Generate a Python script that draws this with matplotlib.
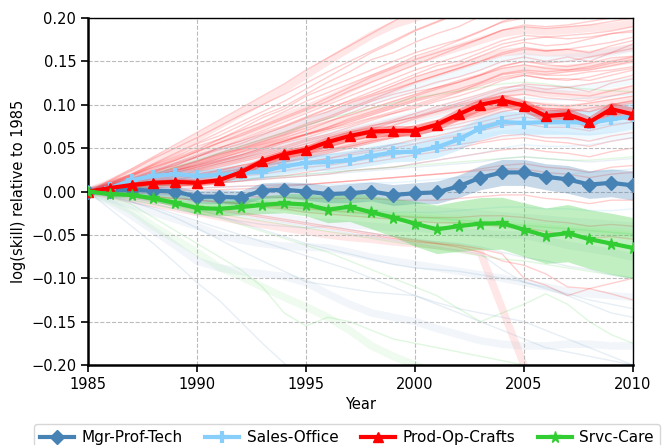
import numpy as np
import matplotlib
matplotlib.use("Agg")
import matplotlib.pyplot as plt

years = list(range(1985, 2011))

# main series
mgr = [0, .001, .002, .001, .000, -.006, -.006, -.007, .001, .002, .000, -.003, -.002, .000, -.004,
       -.002, -.001, .006, .016, .022, .022, .017, .014, .008, .010, .007]
sales = [0, .004, .013, .018, .020, .018, .019, .021, .023, .029, .033, .034, .036, .041, .045,
         .046, .051, .060, .073, .080, .079, .080, .080, .079, .083, .087]
prod = [0, .004, .0075, .010, .011, .010, .013, .022, .035, .043, .048, .057, .064, .069, .070,
        .070, .077, .089, .100, .105, .099, .087, .089, .080, .095, .089]
srvc = [0, -.003, -.004, -.008, -.013, -.019, -.020, -.018, -.0155, -.0136, -.015, -.021, -.0175,
        -.024, -.030, -.037, -.0436, -.040, -.037, -.0366, -.044, -.051, -.048, -.055, -.060, -.065]

# confidence half-widths
mgr_err = [0, .003, .004, .005, .006, .007, .008, .008, .009, .009, .010, .010, .011, .011, .012,
           .012, .013, .013, .014, .015, .015, .015, .016, .016, .016, .017]
sales_err = [0, .003, .004, .005, .006, .007, .007, .008, .008, .009, .009, .010, .010, .011, .011,
             .011, .012, .012, .013, .013, .013, .014, .014, .014, .015, .015]
prod_err = [0, .002, .003, .003, .004, .004, .004, .005, .005, .005, .005, .006, .006, .006, .006,
            .006, .006, .007, .007, .007, .007, .007, .007, .007, .008, .008]
srvc_err = [0, .001, .002, .003, .005, .007, .008, .009, .010, .011, .013, .015, .017, .019, .022,
            .026, .028, .029, .030, .030, .031, .032, .033, .034, .035, .035]

# background occupation trajectories (thousandths)
red_thin = [
    "0 8 18 30 40 52 60 72 85 95 110 120 130 140 150 160 168 175 185 195 200 205 210 215 220 225",
    "0 6 14 22 30 40 48 55 65 75 85 95 105 115 125 135 145 150 160 170 175 178 180 182 185 190",
    "0 5 10 18 25 32 40 48 55 62 70 80 90 100 108 115 120 128 135 145 150 148 150 155 160 165",
    "0 4 9 15 22 28 35 42 50 58 65 72 78 85 92 100 108 115 125 135 138 135 138 140 145 150",
    "0 7 12 20 26 34 42 50 58 66 76 84 94 104 112 118 126 132 140 150 155 150 155 150 160 170",
    "0 3 8 12 18 24 30 36 42 48 55 62 68 75 82 90 98 105 112 120 122 118 120 115 125 130",
    "0 5 11 16 22 26 32 38 44 50 58 64 70 76 80 86 92 98 104 110 112 108 106 104 110 115",
    "0 2 6 10 14 18 24 28 34 40 46 52 58 64 70 76 82 86 92 98 100 95 96 92 100 105",
    "0 4 8 12 16 20 24 30 34 38 44 48 52 58 62 66 70 74 80 86 90 86 84 82 88 92",
    "0 3 5 8 12 14 18 22 26 30 34 38 42 46 50 55 60 64 70 76 78 74 74 70 76 80",
    "0 2 4 6 8 12 14 18 20 24 28 30 34 38 42 46 50 54 58 64 66 62 62 58 64 68",
    "0 1 3 5 6 8 10 12 14 16 18 20 24 26 28 32 36 40 44 48 50 46 44 40 46 50",
    "0 0 1 2 3 4 5 6 7 8 8 10 12 14 16 18 20 22 26 30 32 28 26 22 28 30",
    "0 -1 -2 -2 -3 -4 -5 -6 -6 -7 -8 -8 -8 -8 -10 -10 -10 -8 -6 -4 -4 -8 -10 -14 -10 -10",
    "0 -2 -4 -6 -8 -10 -12 -14 -16 -18 -20 -22 -24 -26 -28 -30 -30 -30 -28 -28 -30 -34 -36 -40 -38 -40",
    "0 10 20 32 44 56 68 80 92 104 118 132 146 160 172 185 195 205 215 228 235 240 245 250 255 260",
    "0 9 17 26 36 46 56 64 74 84 94 104 116 126 136 146 156 166 176 186 190 188 190 192 196 200",
    "0 6 13 20 28 35 44 52 60 68 78 86 96 106 116 126 134 142 150 160 166 162 164 160 168 174",
    "0 5 9 14 20 25 32 38 46 52 60 66 74 82 90 98 106 114 122 130 134 130 130 128 134 140",
    "0 3 7 11 16 20 25 30 36 42 48 54 60 68 76 84 92 100 106 114 118 114 112 110 116 122",
    "0 4 7 10 14 18 22 26 30 34 40 46 52 58 64 70 76 82 88 96 100 96 94 92 98 102",
    "0 2 5 8 10 14 18 22 26 30 34 38 44 48 54 60 64 70 76 82 86 82 80 78 84 88",
    "0 1 2 4 6 8 10 12 16 18 22 26 30 34 38 42 46 50 56 60 62 58 56 52 58 62",
    "0 -1 -1 0 1 2 2 3 4 6 8 10 12 14 16 18 20 22 24 26 26 22 20 16 20 22",
    "0 -2 -4 -6 -8 -10 -12 -14 -18 -20 -24 -26 -28 -30 -32 -34 -36 -36 -38 -40 -42 -46 -50 -54 -52 -55",
    "0 -2 -5 -8 -12 -16 -20 -24 -28 -32 -36 -40 -44 -48 -52 -56 -60 -64 -70 -80 -85 -95 -110 -112 -118 -125",
    "0 -3 -6 -10 -14 -18 -22 -26 -30 -34 -38 -42 -46 -50 -54 -58 -60 -62 -66 -72 -100 -108 -120 -112 -106 -100",
    "0 12 24 38 50 62 75 88 100 112 125 138 150 162 174 186 196 206 216 226 232 236 238 240 244 248",
    "0 7 15 24 33 42 50 60 70 80 90 100 110 120 130 140 148 156 164 174 180 178 176 178 182 186",
    "0 5 12 18 24 30 38 46 54 60 66 74 82 90 98 106 112 118 126 136 140 138 140 142 148 152",
    "0 11 20 31 42 55 64 76 88 98 112 126 138 152 160 172 182 190 202 214 218 214 220 226 230 236",
    "0 8 15 24 30 40 50 58 68 76 86 96 104 112 122 132 140 146 156 166 172 168 170 176 182 184",
    "0 6 11 17 24 31 38 45 52 58 66 74 84 92 100 110 118 126 134 144 150 146 144 148 154 156",
    "0 9 19 28 38 48 60 70 80 92 104 114 124 134 144 156 164 174 184 196 204 200 202 206 212 216",
    "0 4 10 16 22 28 34 40 48 56 62 70 76 84 90 96 104 110 118 128 134 130 128 132 138 142",
    "0 7 13 19 27 35 43 49 57 65 73 81 88 96 104 112 120 126 134 142 146 142 140 144 150 155",
    "0 5 8 13 18 23 28 34 40 46 52 58 64 72 80 86 94 102 110 118 124 122 120 124 128 134",
    "0 13 26 40 54 68 82 96 110 124 140 154 168 182 196 210 222 232 244 256 262 264 266 268 272 276",
    "0 3 6 9 13 17 21 26 31 36 42 48 54 60 66 72 78 84 90 98 104 100 98 102 106 110",
    "0 6 12 18 24 30 36 42 50 58 66 72 80 88 96 104 110 116 124 132 136 134 134 138 140 144",
    "0 8 14 22 32 40 50 58 66 74 84 92 102 110 118 126 134 142 150 158 164 162 164 168 172 178",
    "0 2 5 9 12 16 20 24 28 34 38 44 50 56 62 68 72 78 84 92 96 94 92 96 100 104",
    "0 10 18 28 36 46 56 66 76 86 96 108 120 132 142 152 160 168 176 186 192 190 192 196 200 206",
]
red_thick = [
    "0 10 22 35 48 62 76 90 104 118 134 150 165 180 192 200 210 220 230 240 245 250 252 255 258 260",
    "0 -4 -9 -14 -19 -24 -29 -34 -38 -42 -46 -50 -53 -55 -58 -60 -62 -65 -70 -135 -200 -270 -330 -330 -330 -330",
    "0 6 12 20 28 36 44 52 60 68 78 88 98 108 118 128 136 144 152 160 162 160 160 158 162 166",
    "0 4 9 14 20 26 32 38 44 50 56 62 68 74 80 86 92 98 104 112 116 114 112 110 114 118",
    "0 8 16 26 36 46 56 66 76 86 96 106 118 130 140 150 158 166 174 182 186 184 186 188 190 194",
    "0 5 11 17 24 30 38 45 52 60 68 76 84 92 100 108 116 122 130 138 142 140 142 144 148 152",
    "0 3 6 10 14 18 22 26 30 36 42 48 54 60 66 72 78 84 90 96 100 98 96 98 102 106",
]
lb_thin = [
    "0 2 4 6 8 10 12 14 16 18 20 22 24 26 28 32 36 40 44 50 54 52 52 54 58 62",
    "0 1 2 3 4 4 5 6 6 7 8 8 9 10 10 12 14 16 18 20 22 20 20 22 24 26",
    "0 -1 -2 -3 -4 -6 -8 -10 -12 -14 -16 -18 -20 -22 -24 -24 -24 -22 -20 -18 -18 -20 -20 -22 -22 -20",
    "0 4 8 12 17 22 27 32 38 44 50 56 62 68 74 80 86 92 98 104 108 106 106 108 110 112",
]
lb_thick = [
    "0 5 10 16 22 28 34 40 46 52 58 64 70 76 82 88 94 100 108 116 120 118 118 120 124 128",
    "0 3 6 10 14 18 22 26 30 34 40 44 48 52 56 62 68 74 80 88 92 90 90 92 96 100",
    "0 7 14 22 30 38 46 54 62 70 80 88 96 104 112 120 128 136 144 152 156 152 154 156 160 165",
    "0 2 5 8 11 14 17 20 23 26 30 34 38 42 46 50 54 58 62 66 68 66 64 62 64 66",
]
db_thin = [
    "0 -20 -40 -60 -82 -105 -125 -150 -175 -198 -220 -240 -250 -260 -270 -280 -290 -300 -300 -300 -300 -300 -300 -300 -300 -300",
    "0 -6 -12 -18 -26 -34 -42 -50 -58 -66 -74 -82 -90 -100 -110 -120 -128 -135 -140 -145 -150 -160 -170 -180 -190 -200",
    "0 -4 -10 -14 -20 -26 -30 -34 -38 -40 -42 -40 -44 -48 -52 -55 -58 -60 -64 -70 -76 -80 -86 -90 -96 -100",
    "0 3 6 10 14 18 22 26 30 34 38 42 46 50 54 58 62 66 70 76 80 78 76 74 78 80",
    "0 2 4 6 8 10 10 12 14 16 18 20 22 24 26 28 30 32 34 38 40 38 36 34 36 38",
    "0 -3 -6 -10 -15 -20 -28 -36 -44 -52 -60 -66 -72 -78 -84 -88 -90 -92 -96 -100 -104 -112 -120 -130 -140 -145",
    "0 -5 -12 -20 -30 -42 -55 -68 -80 -92 -104 -108 -112 -116 -118 -120 -130 -140 -150 -160 -170 -180 -185 -190 -195 -200",
    "0 -4 -8 -12 -16 -20 -24 -28 -32 -36 -40 -44 -48 -52 -56 -60 -64 -68 -72 -90 -105 -110 -118 -125 -130 -135",
]
db_thick = [
    "0 -12 -28 -45 -62 -80 -88 -92 -95 -98 -105 -118 -130 -140 -145 -150 -158 -165 -172 -176 -178 -178 -176 -176 -178 -178",
    "0 -8 -16 -24 -32 -40 -50 -56 -60 -63 -64 -65 -70 -76 -80 -84 -88 -92 -96 -100 -105 -110 -115 -118 -120 -122",
    "0 -2 -4 -8 -12 -16 -20 -22 -26 -30 -34 -36 -38 -40 -42 -42 -44 -46 -48 -50 -50 -56 -62 -66 -70 -76",
    "0 -1 -2 -3 -4 -5 -6 -7 -8 -9 -10 -12 -14 -16 -18 -20 -22 -24 -26 -28 -30 -32 -34 -36 -38 -40",
]
g_thin = [
    "0 -5 -15 -30 -45 -60 -75 -90 -110 -140 -155 -145 -150 -160 -170 -175 -180 -185 -190 -195 -200 -210 -220 -230 -240 -250",
    "0 -5 -10 -15 -20 -25 -30 -38 -46 -54 -62 -70 -80 -90 -100 -110 -120 -135 -150 -140 -130 -118 -130 -150 -165 -175",
    "0 5 12 20 28 36 44 52 60 68 76 84 90 96 102 108 112 116 120 124 126 124 120 118 116 115",
    "0 2 4 6 8 10 12 14 16 18 20 22 24 26 28 30 32 34 36 38 40 38 36 36 38 40",
    "0 -4 -8 -12 -16 -22 -26 -30 -34 -38 -42 -46 -50 -54 -58 -62 -66 -70 -74 -78 -80 -84 -88 -92 -96 -100",
    "0 -1 -3 -5 -7 -9 -11 -13 -15 -17 -19 -21 -23 -25 -27 -29 -31 -33 -35 -37 -39 -41 -43 -45 -47 -49",
]
g_thick = [
    "0 -10 -22 -40 -55 -70 -87 -98 -110 -122 -133 -145 -160 -178 -190 -200 -210 -220 -230 -240 -250 -260 -270 -280 -290 -300",
    "0 -2 -4 -6 -8 -10 -12 -14 -16 -18 -20 -22 -24 -26 -28 -30 -32 -34 -36 -38 -40 -42 -44 -46 -48 -50",
    "0 -1 -2 -4 -6 -8 -10 -12 -14 -16 -18 -20 -22 -24 -26 -28 -30 -32 -34 -36 -38 -40 -42 -44 -46 -48",
]

labels = ["Mgr-Prof-Tech", "Sales-Office", "Prod-Op-Crafts", "Srvc-Care"]
colors = ["#4682B4", "#87CEFA", "#FF0000", "#32CD32"]
markers = ["D", "+", "^", "*"]


def parse(s):
    return [int(v) / 1000.0 for v in s.split()]


fig = plt.figure(figsize=(6.62, 4.45), dpi=100)
ax = fig.add_axes([88 / 662, 1 - 365 / 445, (633 - 88) / 662, (365 - 18) / 445])

bg = [(red_thin, red_thick, colors[2], 0.19), (lb_thin, lb_thick, colors[1], 0.2),
      (db_thin, db_thick, colors[0], 0.13), (g_thin, g_thick, colors[3], 0.15)]
for thin, thick, c, a in bg:
    for s in thick:
        ax.plot(years, parse(s), color=c, lw=5.5, alpha=a * 0.5, zorder=1, solid_capstyle="butt")
    for s in thin:
        ax.plot(years, parse(s), color=c, lw=1.0, alpha=a, zorder=1)

series = [mgr, sales, prod, srvc]
errs = [mgr_err, sales_err, prod_err, srvc_err]
handles = []
for i, (vals, e) in enumerate(zip(series, errs)):
    v = np.array(vals)
    ee = np.array(e)
    ax.fill_between(years, v - ee, v + ee, color=colors[i], alpha=0.3, lw=0, zorder=2)
for i, vals in enumerate(series):
    kw = dict(markersize=7.5)
    if markers[i] == "+":
        kw = dict(markersize=9, markeredgewidth=3)
    if markers[i] == "*":
        kw = dict(markersize=8.5)
    h, = ax.plot(years, vals, color=colors[i], lw=3.0, marker=markers[i], label=labels[i],
                 zorder=3 + i, **kw)
    handles.append(h)

ax.set_xlim(1985, 2010)
ax.set_ylim(-0.2, 0.2)
ax.set_xticks([1985, 1990, 1995, 2000, 2005, 2010])
ax.set_yticks([-0.2, -0.15, -0.1, -0.05, 0, 0.05, 0.1, 0.15, 0.2])
ax.set_yticklabels(["\u22120.20", "\u22120.15", "\u22120.10", "\u22120.05", "0.00", "0.05", "0.10", "0.15", "0.20"])
ax.tick_params(labelsize=10.5, direction="out", length=5, width=1.2)
ax.grid(True, ls="--", color="#bbbbbb", lw=0.8, zorder=1.5)
for sp in ["left", "bottom"]:
    ax.spines[sp].set_linewidth(1.8)
for sp in ["top", "right"]:
    ax.spines[sp].set_linewidth(1.0)
ax.set_xlabel("Year", fontsize=10.5)
ax.set_ylabel("log(skill) relative to 1985", fontsize=10.5)

fig.legend(handles=handles, loc="upper left", bbox_to_anchor=(34 / 662, 1 - 424 / 445),
           borderaxespad=0, ncol=4, fontsize=11, frameon=True, fancybox=True,
           edgecolor="#cccccc", columnspacing=1.5, handlelength=2.2, handletextpad=0.5)

fig.savefig("out.png", dpi=100)
